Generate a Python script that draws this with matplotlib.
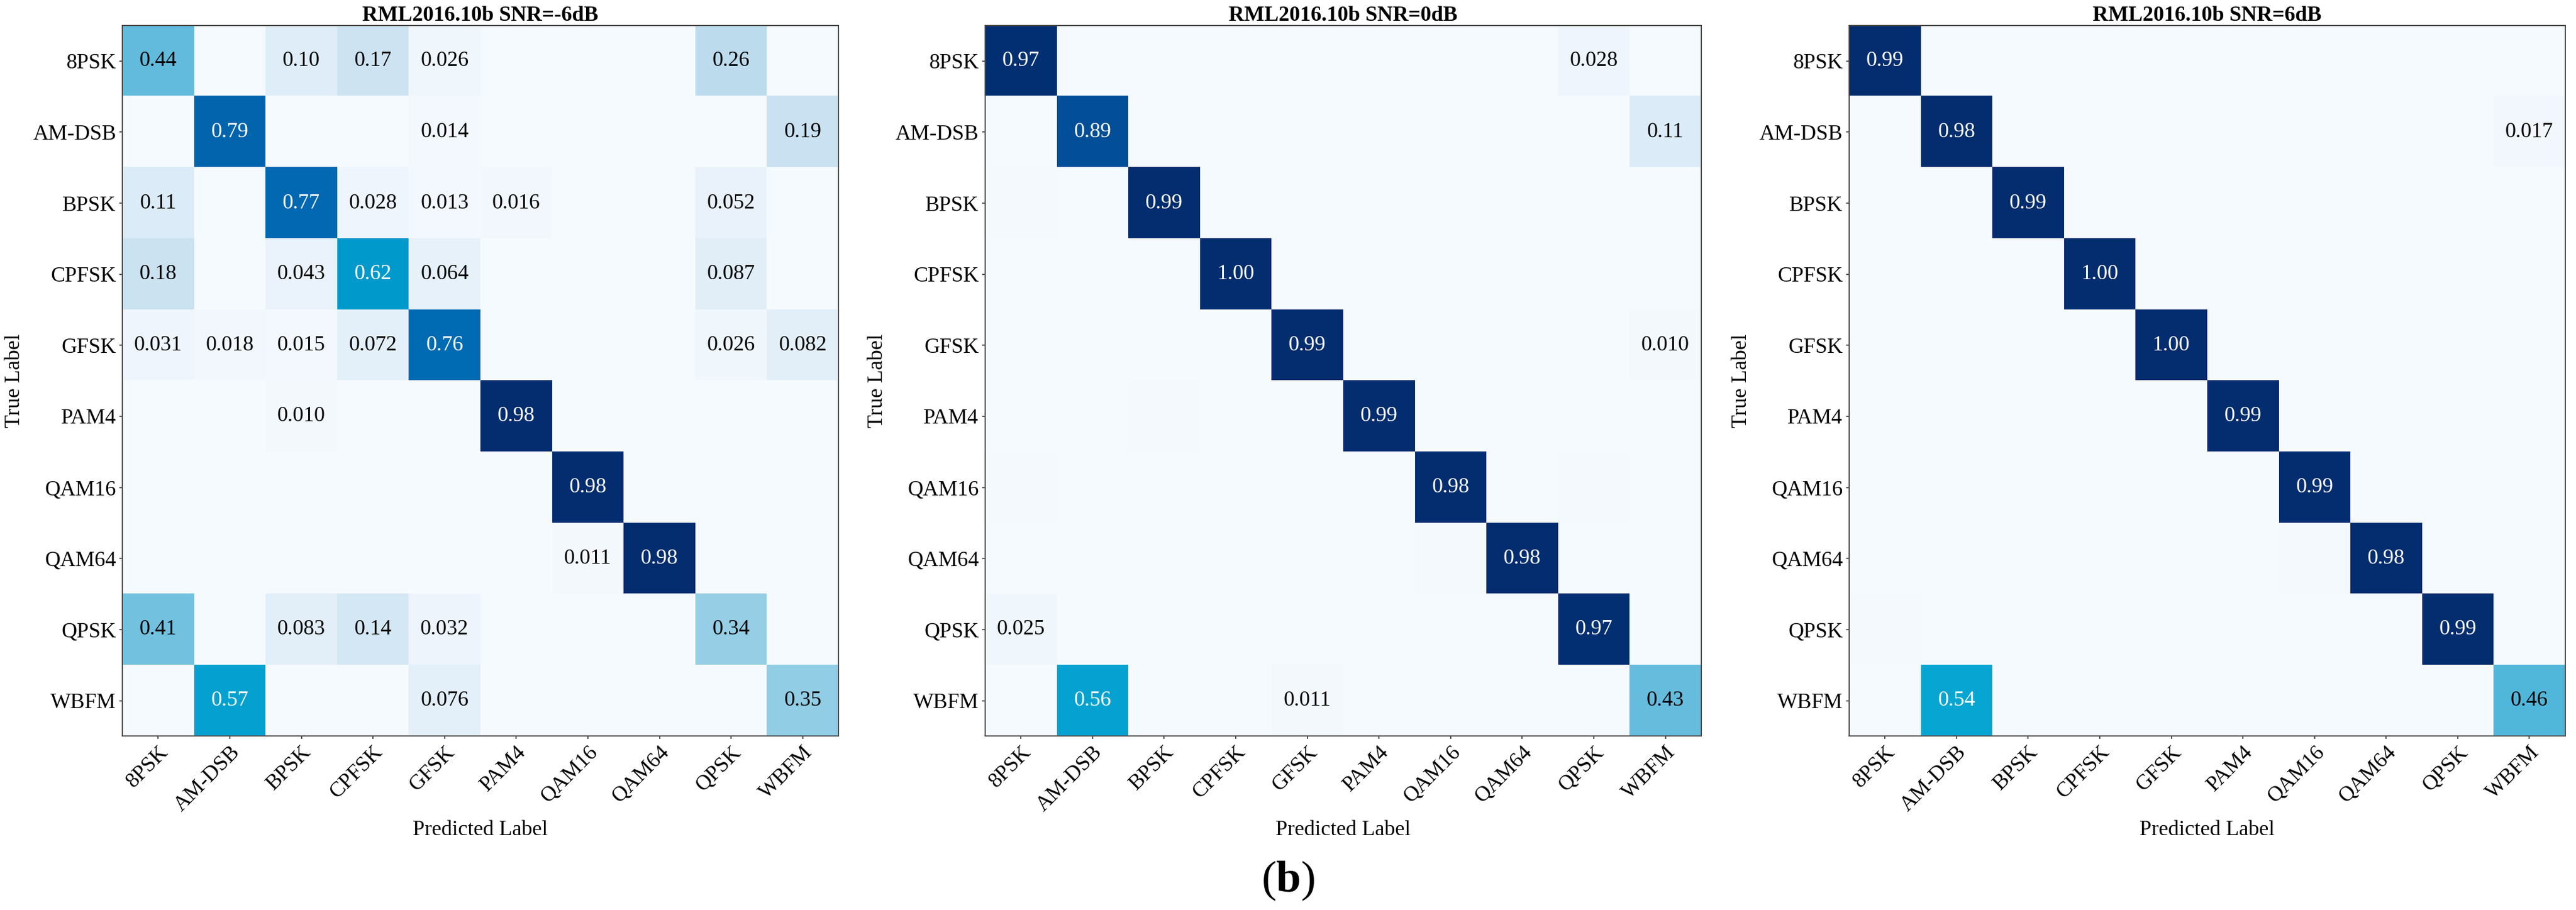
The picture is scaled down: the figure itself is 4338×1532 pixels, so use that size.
import numpy as np
import matplotlib
matplotlib.use("Agg")
import matplotlib.pyplot as plt
from matplotlib.colors import LinearSegmentedColormap

plt.rcParams['font.family'] = ['Liberation Serif', 'DejaVu Serif']
plt.rcParams['mathtext.fontset'] = 'custom'
plt.rcParams['mathtext.bf'] = 'Liberation Serif:bold'

# class names
classes = ['8PSK', 'AM-DSB', 'BPSK', 'CPFSK', 'GFSK', 'PAM4', 'QAM16', 'QAM64', 'QPSK', 'WBFM']
titles = ['RML2016.10b SNR=-6dB', 'RML2016.10b SNR=0dB', 'RML2016.10b SNR=6dB']

# confusion matrices (rows = true, cols = predicted)
cm_m6 = [
    [0.44, 0, 0.10, 0.17, 0.026, 0, 0, 0, 0.26, 0],
    [0, 0.79, 0, 0, 0.014, 0, 0, 0, 0, 0.19],
    [0.11, 0, 0.77, 0.028, 0.013, 0.016, 0, 0, 0.052, 0],
    [0.18, 0, 0.043, 0.62, 0.064, 0, 0, 0, 0.087, 0],
    [0.031, 0.018, 0.015, 0.072, 0.76, 0, 0, 0, 0.026, 0.082],
    [0, 0, 0.010, 0, 0, 0.98, 0, 0, 0, 0],
    [0, 0, 0, 0, 0, 0, 0.98, 0, 0, 0],
    [0, 0, 0, 0, 0, 0, 0.011, 0.98, 0, 0],
    [0.41, 0, 0.083, 0.14, 0.032, 0, 0, 0, 0.34, 0],
    [0, 0.57, 0, 0, 0.076, 0, 0, 0, 0, 0.35],
]
cm_0 = [
    [0.97, 0, 0, 0, 0, 0, 0, 0, 0.028, 0],
    [0, 0.89, 0, 0, 0, 0, 0, 0, 0, 0.11],
    [0.004, 0, 0.99, 0, 0, 0, 0, 0, 0, 0],
    [0, 0, 0, 1.00, 0, 0, 0, 0, 0, 0],
    [0, 0, 0, 0, 0.99, 0, 0, 0, 0, 0.010],
    [0, 0, 0.005, 0, 0, 0.99, 0, 0, 0, 0],
    [0.004, 0, 0, 0, 0, 0, 0.98, 0, 0.004, 0],
    [0, 0, 0, 0, 0, 0, 0.006, 0.98, 0, 0],
    [0.025, 0, 0, 0, 0, 0, 0, 0, 0.97, 0],
    [0, 0.56, 0, 0, 0.011, 0, 0, 0, 0, 0.43],
]
cm_6 = [
    [0.99, 0, 0, 0, 0, 0, 0, 0, 0, 0],
    [0, 0.98, 0, 0, 0, 0, 0, 0, 0, 0.017],
    [0, 0, 0.99, 0, 0, 0, 0, 0, 0, 0],
    [0, 0, 0, 1.00, 0, 0, 0, 0, 0, 0],
    [0, 0, 0, 0, 1.00, 0, 0, 0, 0, 0],
    [0.003, 0, 0, 0, 0, 0.99, 0, 0, 0, 0],
    [0, 0, 0, 0, 0, 0, 0.99, 0, 0, 0],
    [0, 0, 0, 0, 0, 0, 0.005, 0.98, 0, 0],
    [0.005, 0, 0, 0, 0, 0, 0, 0, 0.99, 0],
    [0, 0.54, 0, 0, 0, 0, 0, 0, 0, 0.46],
]
matrices = [cm_m6, cm_0, cm_6]

# colour ramp picked off the figure
cmap = LinearSegmentedColormap.from_list('cm_blues', [
    (0.0, '#f5fafe'), (0.03, '#eef5fc'), (0.10, '#deedf8'), (0.17, '#cde3f2'),
    (0.26, '#bcdcee'), (0.34, '#96cfe6'), (0.44, '#62bbdc'), (0.54, '#07a6d3'),
    (0.62, '#0099cc'), (0.77, '#0169b2'), (0.89, '#024f99'), (0.98, '#032d6e'),
    (1.0, '#032d6e')])

fig = plt.figure(figsize=(43.38, 15.32), dpi=100)
lefts = [0.0475, 0.3824, 0.7178]
fs = 26

for left, cm, title in zip(lefts, matrices, titles):
    ax = fig.add_axes([left, 0.191, 0.278, 0.781])
    data = np.array(cm, dtype=float)
    ax.imshow(data, cmap=cmap, vmin=0, vmax=1, aspect='auto', interpolation='nearest')
    n = len(classes)
    for i in range(n):
        for j in range(n):
            v = data[i, j]
            if v < 0.0095:
                continue
            txt = f"{v:.2f}" if v >= 0.095 else f"{v:.3f}"
            ax.text(j, i, txt, ha='center', va='center', fontsize=fs,
                    color='white' if v > 0.5 else 'black')
    ax.set_xticks(range(n))
    ax.set_yticks(range(n))
    ax.set_xticklabels(classes, rotation=45, ha='right', rotation_mode='anchor', fontsize=fs)
    ax.set_yticklabels(classes, fontsize=fs)
    ax.tick_params(length=3.5, width=1.2, pad=4, color='#333333')
    ax.set_xlabel('Predicted Label', fontsize=fs, labelpad=6)
    ax.set_ylabel('True Label', fontsize=fs, labelpad=10)
    ax.set_title(title, fontsize=fs, fontweight='bold', pad=5)
    for sp in ax.spines.values():
        sp.set_color('#4a4a4a')
        sp.set_linewidth(1.4)

fig.text(0.5, 0.032, r'($\mathbf{b}$)', ha='center', va='center', fontsize=54)

fig.savefig('out.png', dpi=100)
